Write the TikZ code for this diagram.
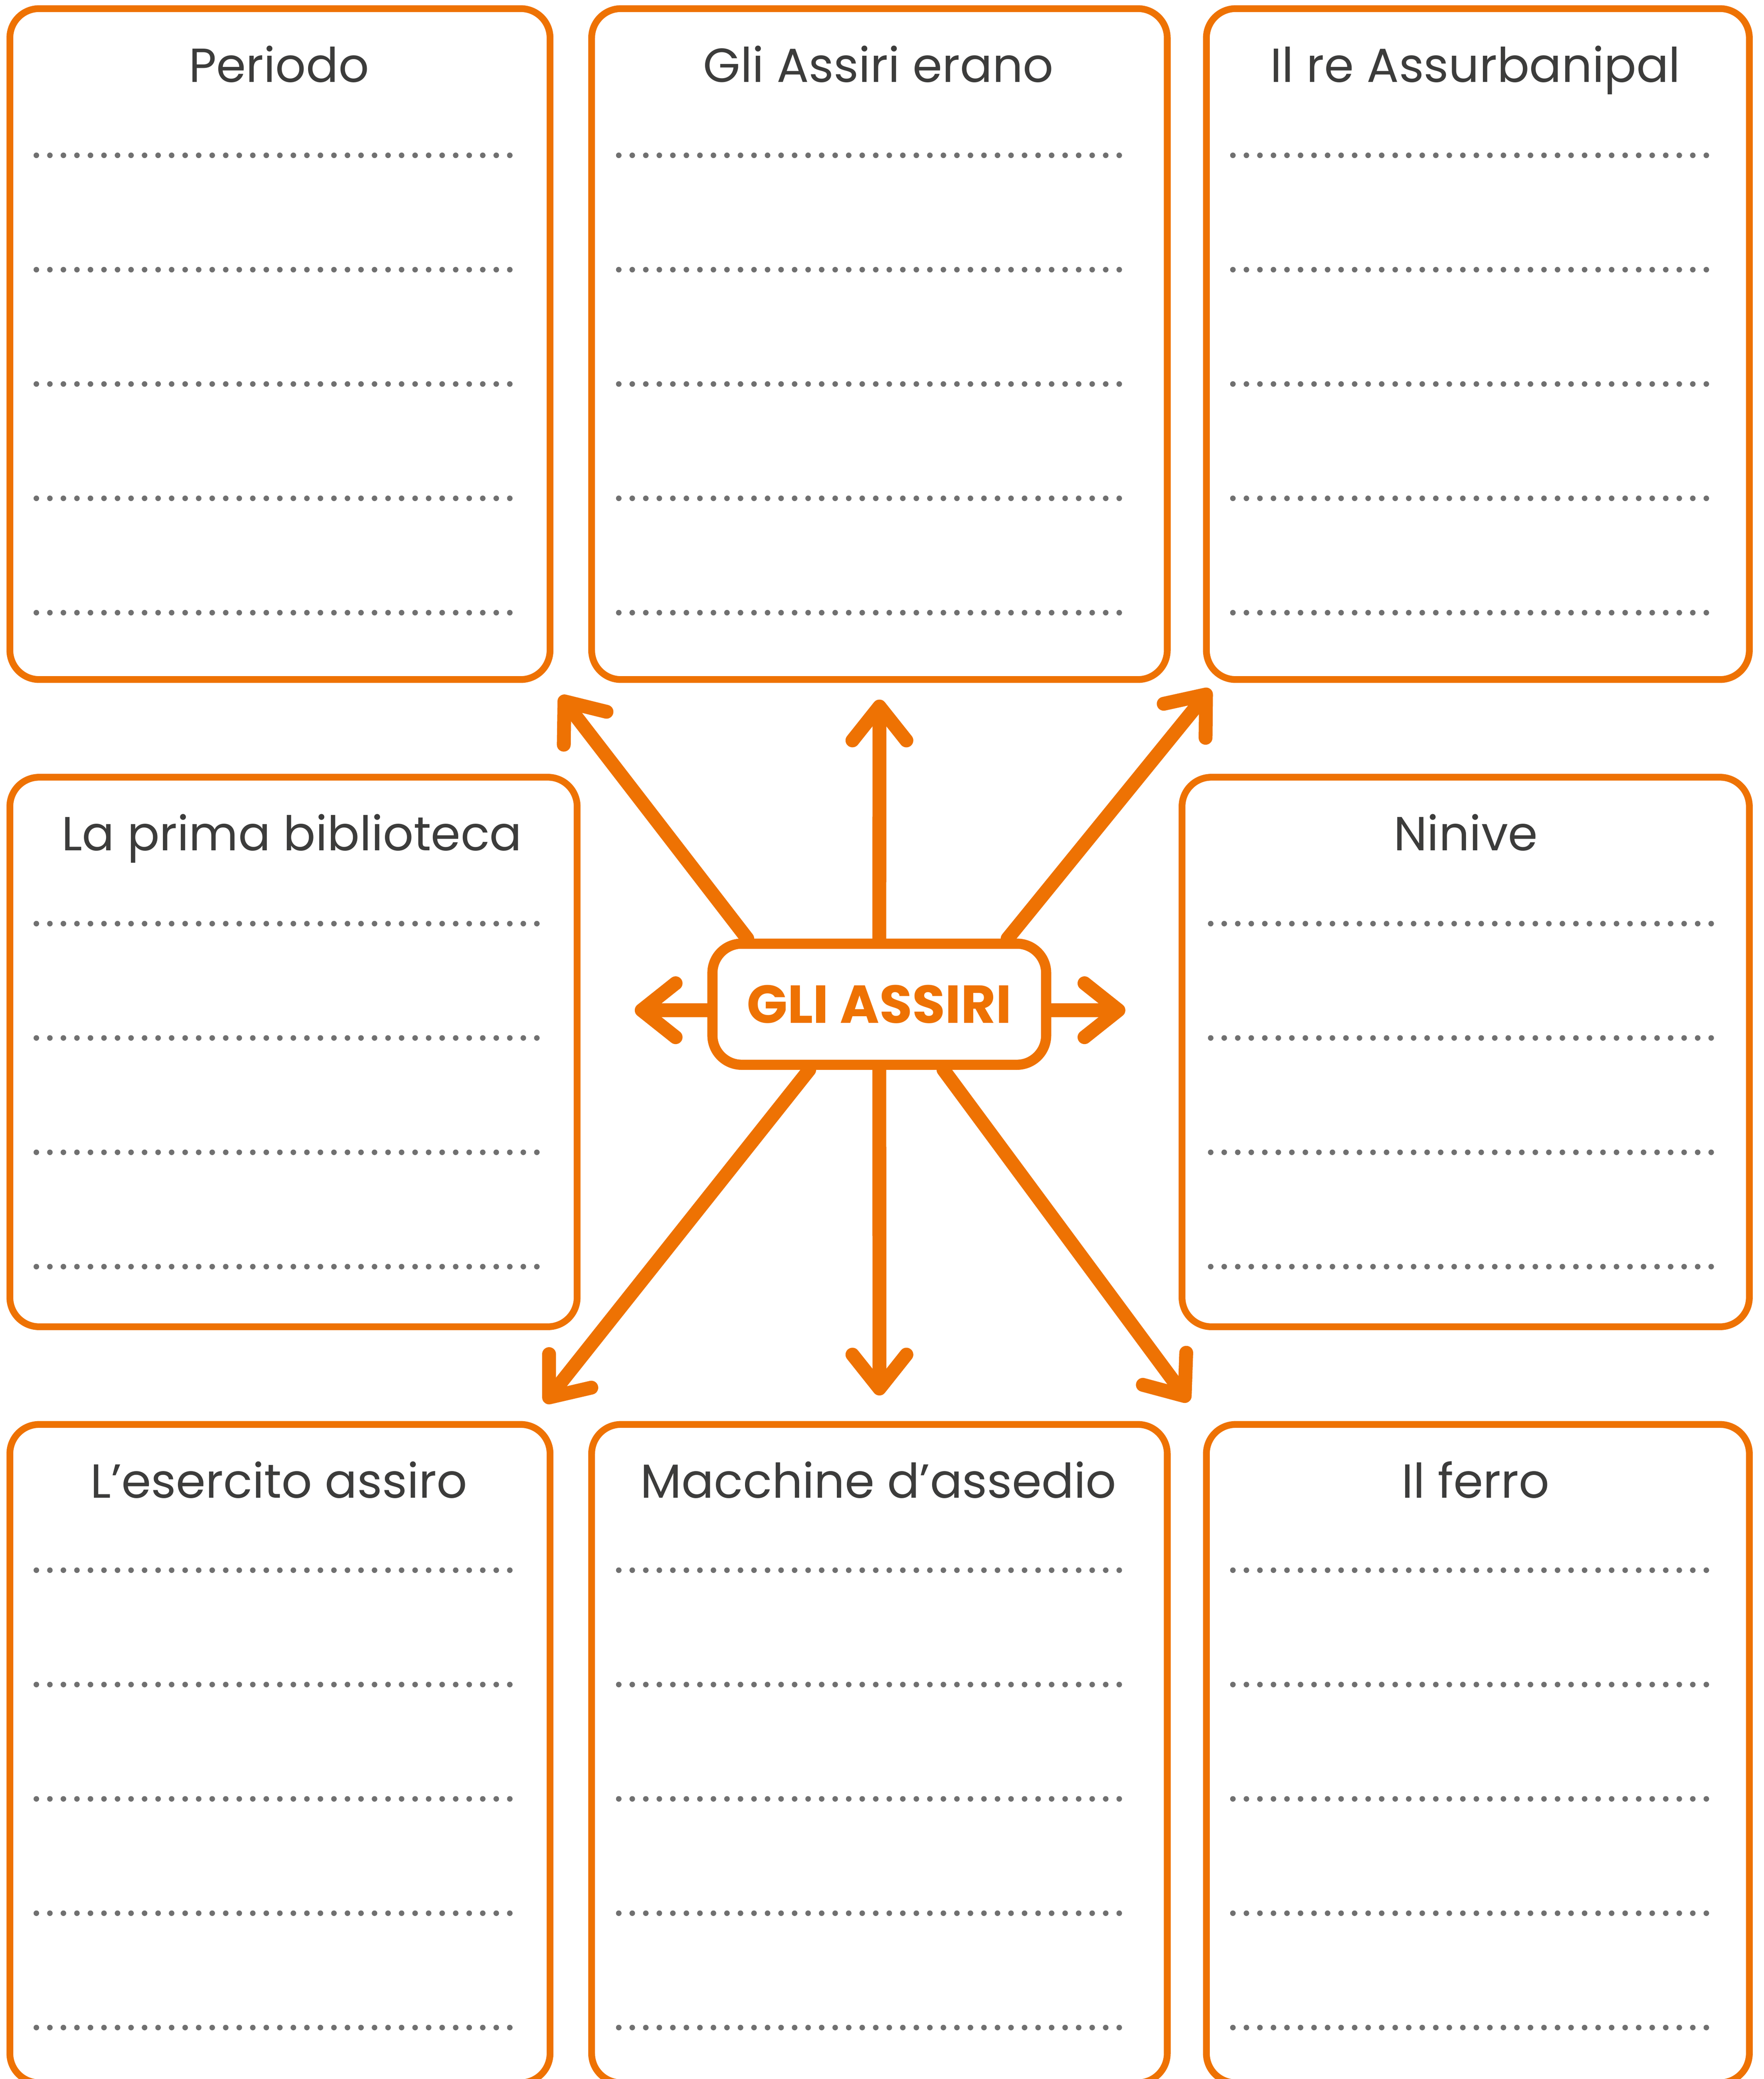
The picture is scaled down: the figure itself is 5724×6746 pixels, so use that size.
\documentclass[tikz,border=0pt]{standalone}
\usepackage{fontspec}
\setmainfont{Poppins}
\usetikzlibrary{arrows.meta}
\definecolor{org}{RGB}{238,114,3}
\definecolor{ink}{RGB}{60,60,59}
\definecolor{dotgray}{RGB}{112,112,112}
\pgfdeclarelayer{back}
\pgfdeclarelayer{bg}
\pgfsetlayers{back,bg,main}
\begin{document}
\begin{tikzpicture}[x=0.1pt,y=-0.1pt,
  box/.style={draw=org, line width=2.2pt, rounded corners=9.5pt},
  ttl/.style={anchor=base, text=ink, font=\fontsize{15.5}{18}\selectfont, inner sep=0pt},
  dotrow/.style={draw=dotgray, line width=1.8pt, line cap=round, dash pattern=on 0pt off 4.39pt},
  conn/.style={draw=org, line width=4.5pt, line cap=round,
    -{Straight Barb[length=11pt, width=17.5pt, line cap=round, line join=round]}},
  hub/.style={draw=org, fill=white, line width=3.3pt, rounded corners=9.5pt,
    minimum width=108.3pt, minimum height=39.3pt, inner sep=0pt,
    text=org, font=\bfseries\fontsize{17.35}{20}\selectfont}]
\useasboundingbox (0,0) rectangle (5724,6746);
\clip (0,0) rectangle (5724,6746);
\begin{pgfonlayer}{back}
\fill[white] (0,0) rectangle (5724,6746);
\end{pgfonlayer}

% boxes
\draw[box] (32,28) rectangle (1785,2205);
\draw[box] (1920,28) rectangle (3788,2205);
\draw[box] (3915,28) rectangle (5677,2205);
\draw[box] (32,2522) rectangle (1873,4305);
\draw[box] (3836,2522) rectangle (5677,4305);
\draw[box] (32,4622) rectangle (1785,6758);
\draw[box] (1920,4622) rectangle (3788,6758);
\draw[box] (3915,4622) rectangle (5677,6758);

% titles
\node[ttl] (tA) at (905,266) {Periodo};
\node[ttl] (tB) at (2851,266) {Gli Assiri erano};
\node[ttl] (tC) at (4788,266) {Il re Assurbanipal};
\node[ttl] (tD) at (947,2760) {La prima biblioteca};
\node[ttl] (tE) at (4756.5,2760) {Ninive};
\node[ttl] (tF) at (905,4860) {L’esercito assiro};
\node[ttl] (tG) at (2851,4860) {Macchine d’assedio};
\node[ttl] (tH) at (4788,4860) {Il ferro};

% dotted writing lines
\foreach \xa/\n in {118/35, 2008/37, 4001/35}{
  \foreach \yy in {504,875,1246,1617,1988,5095,5466,5837,6208,6579}{
    \pgfmathsetmacro{\xb}{\xa+\n*43.9+2}
    \draw[dotrow] (\xa,\yy) -- (\xb,\yy);
  }}
\foreach \xa/\n in {118/37, 3929/37}{
  \foreach \yy in {2997,3368,3739,4110}{
    \pgfmathsetmacro{\xb}{\xa+\n*43.9+2}
    \draw[dotrow] (\xa,\yy) -- (\xb,\yy);
  }}

% central node
\node[hub] (c) at (2853.5,3258.5) {GLI ASSIRI};

% arrow ends
\coordinate (eUL) at (1818,2258);
\coordinate (eU) at (2854,2270);
\coordinate (eUR) at (3928,2236);
\coordinate (eL) at (2060,3278);
\coordinate (eR) at (3652,3278);
\coordinate (eLL) at (1768,4552);
\coordinate (eD) at (2854,4528);
\coordinate (eLR) at (3858,4548);

\begin{pgfonlayer}{bg}
\draw[conn] ([xshift=-42.85pt]c.north) -- (eUL);
\draw[conn] (c.north) -- (eU);
\draw[conn] ([xshift=41.65pt]c.north) -- (eUR);
\draw[conn] ([yshift=-1.95pt]c.west) -- (eL);
\draw[conn] ([yshift=-1.95pt]c.east) -- (eR);
\draw[conn] ([xshift=-22.75pt]c.south) -- (eLL);
\draw[conn] (c.south) -- (eD);
\draw[conn] ([xshift=20.85pt]c.south) -- (eLR);
\end{pgfonlayer}
\end{tikzpicture}
\end{document}
